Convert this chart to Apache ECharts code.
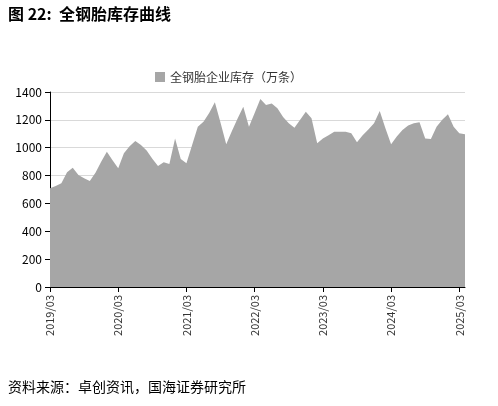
<!DOCTYPE html><html><head><meta charset="utf-8"><script src="https://cdn.jsdelivr.net/npm/echarts@6/dist/echarts.min.js"></script></head><body style="margin:0"><div id="c" style="width:498px;height:406px"></div><script>
const startYear=2019,startMonth=3;
const values=[709,725,745,823,856,804,780,761,820,900,971,910,852,960,1010,1048,1019,980,920,869,895,883,1067,919,888,1020,1151,1187,1250,1326,1180,1024,1120,1210,1295,1151,1250,1350,1307,1318,1283,1220,1175,1144,1200,1259,1211,1032,1067,1090,1115,1115,1115,1103,1039,1090,1130,1175,1264,1140,1024,1080,1127,1160,1175,1182,1067,1062,1150,1200,1240,1151,1103,1096];
const categories=values.map((v,i)=>{const t=startMonth-1+i;return (startYear+Math.floor(t/12))+'/'+String(t%12+1).padStart(2,'0');});
const seriesName='全钢胎企业库存（万条）';
const c=echarts.init(document.getElementById('c'));
c.setOption({animation:false,textStyle:{fontFamily:'Noto Sans CJK SC'},
graphic:[{type:'text',left:8,top:6,style:{text:'图 22:  全钢胎库存曲线',font:'bold 16px "Noto Sans CJK SC"',fill:'#000'}},
{type:'text',left:8,top:380,style:{text:'资料来源：卓创资讯，国海证券研究所',font:'14px "Noto Sans CJK SC"',fill:'#000'}}],
legend:{top:66,left:150,itemWidth:10,itemHeight:10,textStyle:{fontSize:12,color:'#333'},data:[{name:seriesName,icon:'rect'}]},
grid:{left:50,right:33,top:92,bottom:119},
xAxis:{type:'category',boundaryGap:false,data:categories,axisLine:{lineStyle:{color:'#000'}},axisTick:{show:true,interval:(i)=>i%12===0,lineStyle:{color:'#000'}},axisLabel:{interval:(i)=>i%12===0,rotate:90,fontSize:11,color:'#333'}},
yAxis:{type:'value',min:0,max:1400,interval:200,axisLine:{show:true,lineStyle:{color:'#000'}},axisTick:{show:true,lineStyle:{color:'#000'}},axisLabel:{fontSize:12,color:'#000',formatter:(v)=>String(v)},splitLine:{lineStyle:{color:'#d9d9d9'}}},
series:[{name:seriesName,type:'line',data:values,symbol:'none',lineStyle:{width:0},itemStyle:{color:'#a6a6a6'},areaStyle:{color:'#a6a6a6',opacity:1}}]});
</script></body></html>
